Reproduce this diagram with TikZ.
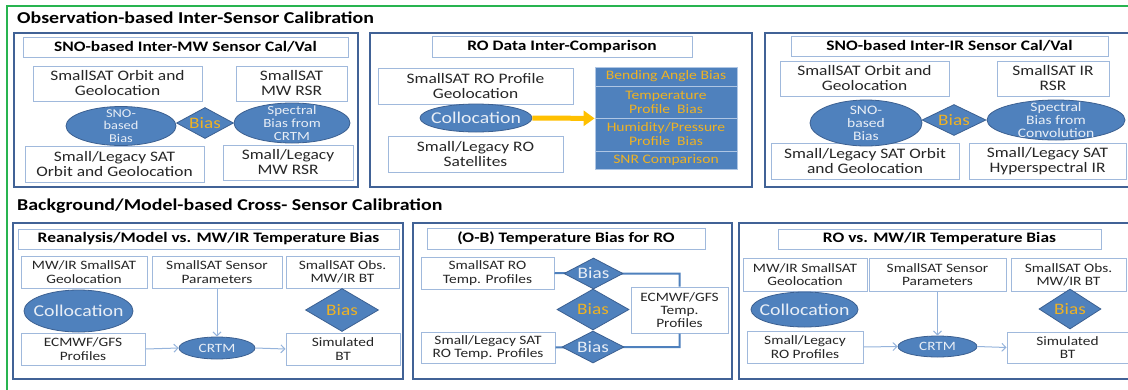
\documentclass[tikz,border=0pt]{standalone}
\usepackage{fontspec}
\setmainfont{Carlito}[FakeStretch=1.2]
\usetikzlibrary{shapes.geometric,arrows.meta}

\definecolor{frameGreen}{RGB}{40,180,80}
\definecolor{pnl}{RGB}{65,98,150}
\definecolor{lbd}{RGB}{160,185,220}
\definecolor{shf}{RGB}{79,129,189}
\definecolor{shd}{RGB}{60,96,145}
\definecolor{shtx}{RGB}{232,238,246}
\definecolor{gld}{RGB}{238,178,36}
\definecolor{txt}{RGB}{38,38,38}
\definecolor{thinArrow}{RGB}{150,180,220}
\definecolor{orangeArrow}{RGB}{255,192,0}
\definecolor{stackLine}{RGB}{175,198,228}

\tikzset{
  sectitle/.style={anchor=west, inner sep=0, text=black, font=\fontsize{16.6}{18}\selectfont\bfseries},
  panel/.style={draw=pnl, line width=2pt, fill=white, inner sep=0},
  hdr/.style={draw=lbd, line width=1pt, fill=white, inner sep=0, text=black, font=\fontsize{14.5}{15}\selectfont\bfseries},
  boxA/.style={draw=lbd, line width=1pt, fill=white, inner sep=0, align=center, text=txt, font=\fontsize{14.5}{15}\selectfont},
  boxB/.style={boxA, font=\fontsize{12.8}{13.2}\selectfont},
  ell/.style={ellipse, draw=shd, line width=0.8pt, fill=shf, inner sep=0},
  dia/.style={diamond, draw=shd, line width=0.8pt, fill=shf, inner sep=0},
  etxt/.style={align=center, text=shtx, inner sep=0},
  goldtxt/.style={inner sep=0, text=gld, font=\fontsize{16}{16}\selectfont},
  whitebias/.style={inner sep=0, text=shtx, font=\fontsize{16}{16}\selectfont},
  stackbox/.style={draw=stackLine, line width=0.8pt, fill=shf, inner sep=0, align=center, text=gld, font=\fontsize{13}{14}\selectfont},
  thin/.style={draw=thinArrow, line width=1pt, -{Straight Barb[length=4pt,width=8pt]}},
  link/.style={draw=shf, line width=2pt},
  fat/.style={draw=orangeArrow, line width=5pt, -{Triangle[length=11pt,width=15pt]}}
}

\begin{document}
\begin{tikzpicture}[x=1pt,y=-1pt]
\useasboundingbox (0,0) rectangle (1128,389);
\clip (0,0) rectangle (1128,389);

% outer green frame
\draw[frameGreen, line width=2pt] (7,392) -- (7,6) -- (1134,6);

% section titles
\node[sectitle] (t1) at (17,18) {Observation-based Inter-Sensor Calibration};
\node[sectitle] (t2) at (17,206) {Background/Model-based Cross- Sensor Calibration};

% ---------- SNO-based inter-MW ----------
\node[panel, minimum width=344, minimum height=154] (p1) at (186,110) {};
\node[hdr, minimum width=325, minimum height=20] (h1) at (185.5,47) {SNO-based Inter-MW Sensor Cal/Val};
\node[boxA, minimum width=169, minimum height=35] (b1a) at (117.5,83.5) {SmallSAT Orbit and\\Geolocation};
\node[boxA, minimum width=111, minimum height=35] (b1b) at (291.5,83.5) {SmallSAT\\MW RSR};
\node[boxA, minimum width=179, minimum height=36] (b1c) at (114.5,164) {Small/Legacy SAT\\Orbit and Geolocation};
\node[boxA, minimum width=130, minimum height=35] (b1d) at (288,162.5) {Small/Legacy\\MW RSR};
\node[ell, minimum width=110, minimum height=39] (e1a) at (121,126) {};
\node[etxt, font=\fontsize{12}{12.8}\selectfont] at (e1a) {SNO-\\based\\Bias};
\node[dia, minimum width=57, minimum height=31] (d1) at (205,123) {};
\node[goldtxt] at (d1) {Bias};
\node[ell, minimum width=116, minimum height=40] (e1b) at (292,123) {};
\node[etxt, font=\fontsize{12.5}{12.8}\selectfont] at (e1b) {Spectral\\Bias from\\CRTM};

% ---------- RO data inter-comparison ----------
\node[panel, minimum width=382, minimum height=154] (p2) at (561,110) {};
\node[hdr, minimum width=260, minimum height=21] (h2) at (562,46.5) {RO Data Inter-Comparison};
\node[boxA, minimum width=195, minimum height=36] (b2a) at (475.5,86) {SmallSAT RO Profile\\Geolocation};
\node[boxA, minimum width=175, minimum height=36] (b2b) at (475.5,154) {Small/Legacy RO\\Satellites};
\node[ell, minimum width=112, minimum height=28] (e2) at (476,118) {};
\node[etxt, font=\fontsize{16.5}{17}\selectfont] at (e2) {Collocation};
\node[stackbox, minimum width=142, minimum height=19] (s1) at (666,76.5) {Bending Angle Bias};
\node[stackbox, minimum width=142, minimum height=32] (s2) at (666,102) {Temperature\\Profile\ \ Bias};
\node[stackbox, minimum width=142, minimum height=33] (s3) at (666,134.5) {Humidity/Pressure\\Profile\ \ Bias};
\node[stackbox, minimum width=142, minimum height=18] (s4) at (666,160) {SNR Comparison};
\draw[fat] (e2.east) -- (s2.south west);

% ---------- SNO-based inter-IR ----------
\node[panel, minimum width=370, minimum height=154] (p3) at (950,110) {};
\node[hdr, minimum width=317, minimum height=20] (h3) at (949.5,46) {SNO-based Inter-IR Sensor Cal/Val};
\node[boxA, minimum width=169, minimum height=35] (b3a) at (864.5,78.5) {SmallSAT Orbit and\\Geolocation};
\node[boxA, minimum width=112, minimum height=35] (b3b) at (1053,78.5) {SmallSAT IR\\RSR};
\node[boxA, minimum width=188, minimum height=36] (b3c) at (865,161) {Small/Legacy SAT Orbit\\and Geolocation};
\node[boxA, minimum width=157, minimum height=36] (b3d) at (1047.5,161) {Small/Legacy SAT\\Hyperspectral IR};
\node[ell, minimum width=112, minimum height=46] (e3a) at (866,123) {};
\node[etxt, font=\fontsize{13}{13}\selectfont] at (e3a) {SNO-\\based\\Bias};
\node[dia, minimum width=64, minimum height=31] (d3) at (954,120) {};
\node[goldtxt] at (d3) {Bias};
\node[ell, minimum width=138, minimum height=40] (e3b) at (1056,120) {};
\node[etxt, font=\fontsize{13}{13}\selectfont] at (e3b) {Spectral\\Bias from\\Convolution};

% ---------- Reanalysis/model vs MW/IR ----------
\node[panel, minimum width=390, minimum height=156] (p4) at (208,301) {};
\node[hdr, minimum width=381, minimum height=20] (h4) at (208.5,239) {Reanalysis/Model vs. MW/IR Temperature Bias};
\node[boxB, minimum width=126, minimum height=32] (b4a) at (84,272) {MW/IR SmallSAT\\Geolocation};
\node[boxB, minimum width=130, minimum height=32] (b4b) at (217,272) {SmallSAT Sensor\\Parameters};
\node[boxB, minimum width=113, minimum height=32] (b4c) at (342.5,272) {SmallSAT Obs.\\MW/IR BT};
\node[boxB, minimum width=124, minimum height=32] (b4d) at (83,349) {ECMWF/GFS\\Profiles};
\node[boxB, minimum width=114, minimum height=32] (b4e) at (343,349) {Simulated\\BT};
\node[ell, minimum width=109, minimum height=42] (e4) at (78.5,311) {};
\node[etxt, font=\fontsize{16.5}{17}\selectfont] at (e4) {Collocation};
\node[dia, minimum width=73, minimum height=43] (d4) at (342,310) {};
\node[goldtxt] at (d4) {Bias};
\node[ell, minimum width=76, minimum height=22] (c4) at (217,348) {};
\node[etxt, font=\fontsize{12.7}{13}\selectfont] at (c4) {CRTM};
\draw[thin] (b4b.south) -- (c4.north);
\draw[thin] (b4d.east) -- (c4.west);
\draw[thin] (c4.east) -- (b4e.west);

% ---------- (O-B) temperature bias for RO ----------
\node[panel, minimum width=319, minimum height=156] (p5) at (572.5,301) {};
\node[hdr, minimum width=278, minimum height=21] (h5) at (566,238.5) {(O-B) Temperature Bias for RO};
\node[boxB, minimum width=133, minimum height=32] (b5a) at (487.5,273) {SmallSAT RO\\Temp. Profiles};
\node[boxB, minimum width=134, minimum height=31] (b5b) at (488,347.5) {Small/Legacy SAT\\RO Temp. Profiles};
\node[boxB, minimum width=97, minimum height=46] (b5c) at (679.5,310) {ECMWF/GFS\\Temp.\\Profiles};
\draw[link] (b5a.east) -- (593.5,273.5) -| (b5c.north);
\draw[link] (b5b.east) -- (593,347) -| (b5c.south);
\node[dia, minimum width=59, minimum height=31] (d5a) at (593.5,273.5) {};
\node[whitebias] at (d5a) {Bias};
\node[dia, minimum width=72, minimum height=41] (d5b) at (593,309.5) {};
\node[goldtxt] at (d5b) {Bias};
\node[dia, minimum width=62, minimum height=32] (d5c) at (593,347) {};
\node[whitebias] at (d5c) {Bias};

% ---------- RO vs MW/IR ----------
\node[panel, minimum width=396, minimum height=156] (p6) at (937,301) {};
\node[hdr, minimum width=323, minimum height=20] (h6) at (939.5,239) {RO vs. MW/IR Temperature Bias};
\node[boxB, minimum width=124, minimum height=33] (b6a) at (805,274.5) {MW/IR SmallSAT\\Geolocation};
\node[boxB, minimum width=137, minimum height=33] (b6b) at (937.5,274.5) {SmallSAT Sensor\\Parameters};
\node[boxB, minimum width=115, minimum height=33] (b6c) at (1068.5,274.5) {SmallSAT Obs.\\MW/IR BT};
\node[boxB, minimum width=116, minimum height=32] (b6d) at (805,347) {Small/Legacy\\RO Profiles};
\node[boxB, minimum width=121, minimum height=31] (b6e) at (1067.5,347.5) {Simulated\\BT};
\node[ell, minimum width=107, minimum height=35] (e6) at (804.5,309.5) {};
\node[etxt, font=\fontsize{16.5}{17}\selectfont] at (e6) {Collocation};
\node[dia, minimum width=62, minimum height=40] (d6) at (1070,309) {};
\node[goldtxt] at (d6) {Bias};
\node[ell, minimum width=79, minimum height=21] (c6) at (937.5,346.5) {};
\node[etxt, font=\fontsize{12.7}{13}\selectfont] at (c6) {CRTM};
\draw[thin] (b6b.south) -- (c6.north);
\draw[thin] (b6d.east) -- (c6.west);
\draw[thin] (c6.east) -- (b6e.west);
\end{tikzpicture}
\end{document}
